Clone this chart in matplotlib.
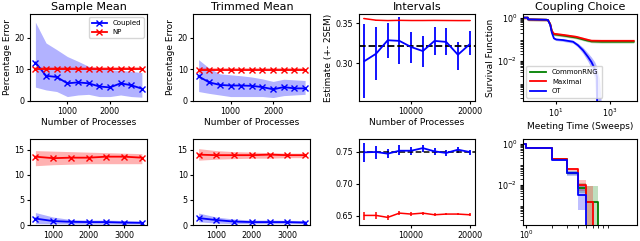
import numpy as np
import matplotlib
matplotlib.use("Agg")
import matplotlib.pyplot as plt
from matplotlib.ticker import NullFormatter

# ---- top row: error vs number of processes ----
n_top = [250, 500, 750, 1000, 1250, 1500, 1750, 2000, 2250, 2500, 2750]

mean_cpl = [12.2, 8.0, 7.6, 5.6, 5.9, 5.6, 4.6, 4.3, 5.6, 5.0, 3.9]
mean_cpl_hi = [25.0, 18.4, 16.3, 14.1, 12.6, 11.0, 10.4, 9.9, 9.7, 9.4, 9.0]
mean_cpl_lo = [4.4, 3.5, 3.0, 1.4, 1.9, 2.1, 1.4, 1.4, 1.9, 1.4, 1.2]
mean_np = [10.2, 10.2, 10.2, 10.2, 10.2, 10.2, 10.2, 10.2, 10.2, 10.2, 10.2]
mean_np_hi = [10.8, 10.8, 10.8, 10.8, 10.8, 10.8, 10.8, 10.8, 10.8, 10.8, 10.8]
mean_np_lo = [9.7, 9.7, 9.7, 9.7, 9.7, 9.7, 9.7, 9.7, 9.7, 9.7, 9.7]

trim_cpl = [7.8, 5.9, 5.1, 4.9, 4.9, 4.8, 4.4, 3.7, 4.4, 4.0, 4.0]
trim_cpl_hi = [13.1, 10.4, 8.6, 8.3, 8.0, 7.6, 7.0, 6.2, 6.9, 6.7, 6.5]
trim_cpl_lo = [3.0, 2.4, 1.9, 1.4, 1.4, 1.4, 1.4, 1.1, 1.7, 1.9, 2.1]
trim_np = [9.9, 9.9, 9.9, 9.9, 9.9, 9.9, 9.9, 9.9, 9.9, 9.9, 9.9]
trim_np_hi = [10.4, 10.4, 10.4, 10.4, 10.4, 10.4, 10.4, 10.4, 10.4, 10.4, 10.4]
trim_np_lo = [9.4, 9.4, 9.4, 9.4, 9.4, 9.4, 9.4, 9.4, 9.4, 9.4, 9.4]

# ---- bottom row ----
n_bot = [500, 1000, 1500, 2000, 2500, 3000, 3500]

mean2_cpl = [1.3, 0.8, 0.65, 0.6, 0.6, 0.5, 0.45]
mean2_cpl_hi = [2.5, 1.6, 1.1, 1.0, 1.0, 0.9, 0.8]
mean2_cpl_lo = [0.3, 0.25, 0.25, 0.2, 0.2, 0.2, 0.2]
mean2_np = [13.6, 13.3, 13.4, 13.4, 13.6, 13.6, 13.4]
mean2_np_hi = [14.8, 14.7, 14.6, 14.5, 14.4, 14.3, 14.2]
mean2_np_lo = [11.8, 12.0, 12.1, 12.2, 12.2, 12.2, 12.2]

trim2_cpl = [1.4, 1.0, 0.7, 0.6, 0.6, 0.6, 0.5]
trim2_cpl_hi = [2.4, 1.6, 1.2, 1.0, 1.0, 0.95, 0.9]
trim2_cpl_lo = [0.65, 0.4, 0.3, 0.3, 0.3, 0.3, 0.3]
trim2_np = [14.0, 13.9, 13.9, 13.9, 14.0, 13.9, 13.9]
trim2_np_hi = [15.2, 14.8, 14.6, 14.5, 14.4, 14.3, 14.3]
trim2_np_lo = [12.9, 13.1, 13.2, 13.3, 13.3, 13.4, 13.4]

# ---- intervals ----
n_int = [2000, 4000, 6000, 8000, 10000, 12000, 14000, 16000, 18000, 20000]
int_cpl = [0.3025, 0.3118, 0.3288, 0.328, 0.3203, 0.3152, 0.328, 0.3267, 0.3106, 0.3237]
int_cpl_hi = [0.349, 0.3458, 0.3508, 0.3576, 0.339, 0.334, 0.3458, 0.3436, 0.3267, 0.3407]
int_cpl_lo = [0.256, 0.2788, 0.3067, 0.299, 0.300, 0.2949, 0.3097, 0.3097, 0.2915, 0.3097]
int_np = [0.3560, 0.3540, 0.3535, 0.3538, 0.3536, 0.3536, 0.3537, 0.3536, 0.3535, 0.3535]
int_true = 0.321

int2_cpl = [0.7495, 0.75, 0.7474, 0.752, 0.752, 0.7561, 0.751, 0.7485, 0.7536, 0.75]
int2_cpl_hi = [0.7638, 0.7587, 0.7551, 0.7602, 0.7571, 0.7612, 0.7561, 0.7536, 0.7571, 0.7536]
int2_cpl_lo = [0.7347, 0.7383, 0.7398, 0.7449, 0.7459, 0.75, 0.7449, 0.7434, 0.7485, 0.7449]
int2_np = [0.6505, 0.6505, 0.6474, 0.6541, 0.6526, 0.6541, 0.6515, 0.6526, 0.6526, 0.6515]
int2_np_hi = [0.6566, 0.6561, 0.6515, 0.6577, 0.6556, 0.6566, 0.6541, 0.6541, 0.6541, 0.6541]
int2_np_lo = [0.6429, 0.6444, 0.6429, 0.6505, 0.6490, 0.6505, 0.6490, 0.6505, 0.6505, 0.6490]
int2_true = 0.75

# ---- coupling choice (survival) ----
ot_t = [0.62, 0.95, 0.95, 4.5, 5.2, 6.35, 7.3, 8.7, 10.6, 18.7, 44, 67, 103, 157, 210, 278, 340, 345, 420, 490]
ot_s = [1.0, 1.0, 0.83, 0.8, 0.78, 0.46, 0.2, 0.11, 0.098, 0.092, 0.077, 0.053, 0.031, 0.0154, 0.009, 0.0044, 0.0018, 1e-6, np.nan, np.nan]
ot_hi = [1.0, 1.0, 0.86, 0.83, 0.81, 0.5, 0.23, 0.125, 0.11, 0.105, 0.09, 0.065, 0.042, 0.023, 0.015, 0.009, 0.005, 0.004, 0.0015, 1e-4]
ot_lo = [1.0, 1.0, 0.80, 0.77, 0.75, 0.42, 0.17, 0.097, 0.087, 0.08, 0.066, 0.043, 0.022, 0.0095, 0.0045, 0.0015, 1e-5, 1e-6, 1e-6, 1e-6]

cp_t = [0.62, 0.95, 0.95, 4.5, 5.2, 6.35, 7.3, 8.7, 18.7, 58, 137, 210, 500, 2000, 7700]
max_s = [1.0, 1.0, 0.83, 0.8, 0.78, 0.5, 0.24, 0.18, 0.16, 0.13, 0.098, 0.086, 0.085, 0.085, 0.085]
crng_s = [1.0, 1.0, 0.83, 0.8, 0.78, 0.5, 0.23, 0.17, 0.15, 0.12, 0.09, 0.08, 0.077, 0.077, 0.077]

# ---- bottom coupling choice (steps) ----
st_t = [0.9, 1, 2, 3, 4, 5, 6, 7, 8]
ot2 = [1.0, 0.62, 0.17, 0.036, 0.0033, 1e-6, 1e-6, 1e-6, 1e-6]
ot2_hi = [1.0, 0.66, 0.19, 0.045, 0.011, 1e-6, 1e-6, 1e-6, 1e-6]
ot2_lo = [1.0, 0.58, 0.15, 0.028, 0.0006, 1e-6, 1e-6, 1e-6, 1e-6]
max2 = [1.0, 0.62, 0.19, 0.058, 0.0093, 0.0015, 1e-6, 1e-6, 1e-6]
max2_hi = [1.0, 0.66, 0.215, 0.07, 0.018, 0.009, 1e-6, 1e-6, 1e-6]
max2_lo = [1.0, 0.58, 0.165, 0.046, 0.005, 1e-5, 1e-6, 1e-6, 1e-6]
crng2 = [1.0, 0.62, 0.18, 0.04, 0.0069, 0.0015, 0.0015, 1e-6, 1e-6]
crng2_hi = [1.0, 0.66, 0.2, 0.05, 0.012, 0.009, 0.009, 1e-6, 1e-6]
crng2_lo = [1.0, 0.58, 0.16, 0.032, 0.004, 1e-5, 1e-5, 1e-6, 1e-6]

TICK = 5.8
LAB = 6.5
TIT = 8

fig = plt.figure(figsize=(6.4, 2.41), dpi=100)
cols = [0.047, 0.302, 0.561, 0.817]
widths = [0.183, 0.183, 0.181, 0.178]
ax = {}
for r, (b, h) in enumerate([(0.581, 0.361), (0.066, 0.357)]):
    for c in range(4):
        ax[r, c] = fig.add_axes([cols[c], b, widths[c], h])
        ax[r, c].tick_params(labelsize=TICK, length=2.5, pad=1.5)


def err_panel(a, x, cpl, clo, chi, npv, nlo, nhi):
    a.fill_between(x, clo, chi, color='blue', alpha=0.3, lw=0)
    a.fill_between(x, nlo, nhi, color='red', alpha=0.3, lw=0)
    a.plot(x, cpl, color='blue', marker='x', ms=4.5, lw=1.3, label='Coupled')
    a.plot(x, npv, color='red', marker='x', ms=4.5, lw=1.3, label='NP')


err_panel(ax[0, 0], n_top, mean_cpl, mean_cpl_lo, mean_cpl_hi, mean_np, mean_np_lo, mean_np_hi)
err_panel(ax[0, 1], n_top, trim_cpl, trim_cpl_lo, trim_cpl_hi, trim_np, trim_np_lo, trim_np_hi)
err_panel(ax[1, 0], n_bot, mean2_cpl, mean2_cpl_lo, mean2_cpl_hi, mean2_np, mean2_np_lo, mean2_np_hi)
err_panel(ax[1, 1], n_bot, trim2_cpl, trim2_cpl_lo, trim2_cpl_hi, trim2_np, trim2_np_lo, trim2_np_hi)

for c in range(2):
    ax[0, c].set_ylim(0, 27.6)
    ax[0, c].set_xticks([1000, 2000])
    ax[0, c].set_yticks([0, 10, 20])
    ax[0, c].set_xlabel('Number of Processes', fontsize=LAB, labelpad=2)
    ax[0, c].set_ylabel('Percentage Error', fontsize=LAB, labelpad=2)
    ax[1, c].set_ylim(0, 17.1)
    ax[1, c].set_xticks([1000, 2000, 3000])
    ax[1, c].set_yticks([0, 5, 10, 15])
ax[0, 0].set_title('Sample Mean', fontsize=TIT, pad=3)
ax[0, 1].set_title('Trimmed Mean', fontsize=TIT, pad=3)
ax[0, 0].legend(loc='upper right', fontsize=5, handlelength=2.2, borderpad=0.4, labelspacing=0.4)

# intervals
a = ax[0, 2]
yerr = [np.subtract(int_cpl, int_cpl_lo), np.subtract(int_cpl_hi, int_cpl)]
a.errorbar(n_int, int_cpl, yerr=yerr, color='blue', lw=1.3)
a.errorbar(n_int, int_np, yerr=0.0008, color='red', lw=1.1)
a.axhline(int_true, color='black', ls='--', lw=1.3)
a.set_ylim(0.2525, 0.3618)
a.set_yticks([0.30, 0.35])
a.set_xticks([10000, 20000])
a.set_title('Intervals', fontsize=TIT, pad=3)
a.set_xlabel('Number of Processes', fontsize=LAB, labelpad=2)
a.set_ylabel('Estimate (+- 2SEM)', fontsize=LAB, labelpad=2)

a = ax[1, 2]
yerr = [np.subtract(int2_cpl, int2_cpl_lo), np.subtract(int2_cpl_hi, int2_cpl)]
a.errorbar(n_int, int2_cpl, yerr=yerr, color='blue', lw=1.3)
yerr = [np.subtract(int2_np, int2_np_lo), np.subtract(int2_np_hi, int2_np)]
a.errorbar(n_int, int2_np, yerr=yerr, color='red', lw=1.1)
a.axhline(int2_true, color='black', ls='--', lw=1.1)
a.set_ylim(0.6353, 0.7703)
a.set_yticks([0.65, 0.70, 0.75])
a.set_xticks([10000, 20000])

# coupling choice
a = ax[0, 3]
a.set_xscale('log')
a.set_yscale('log')
cp_ratio = 1.15
a.fill_between(cp_t, np.array(crng_s) / cp_ratio, np.array(crng_s) * cp_ratio, color='green', alpha=0.3, lw=0)
a.fill_between(cp_t, np.array(max_s) / cp_ratio, np.array(max_s) * cp_ratio, color='red', alpha=0.3, lw=0)
a.fill_between(ot_t, ot_lo, ot_hi, color='blue', alpha=0.3, lw=0)
a.plot(cp_t, crng_s, color='green', lw=1.3, label='CommonRNG')
a.plot(cp_t, max_s, color='red', lw=1.3, label='Maximal')
a.plot(ot_t, ot_s, color='blue', lw=1.3, label='OT')
a.set_xlim(0.62, 10000)
a.set_ylim(1.4e-4, 1.48)
a.set_xticks([10, 1000])
a.set_yticks([1e-2, 1])
a.xaxis.set_minor_formatter(NullFormatter())
a.yaxis.set_minor_formatter(NullFormatter())
a.set_title('Coupling Choice', fontsize=TIT, pad=3)
a.set_xlabel('Meeting Time (Sweeps)', fontsize=LAB, labelpad=2)
a.set_ylabel('Survival Function', fontsize=LAB, labelpad=2)
a.legend(loc='lower left', fontsize=5, handlelength=2.4, borderpad=0.5, labelspacing=0.5)

a = ax[1, 3]
a.set_xscale('log')
a.set_yscale('log')
for s, lo, hi, col in [(crng2, crng2_lo, crng2_hi, 'green'),
                       (max2, max2_lo, max2_hi, 'red'),
                       (ot2, ot2_lo, ot2_hi, 'blue')]:
    a.fill_between(st_t, lo, hi, step='post', color=col, alpha=0.25, lw=0)
for s, col in [(crng2, 'green'), (max2, 'red'), (ot2, 'blue')]:
    a.step(st_t, s, where='post', color=col, lw=1.3)
a.set_xlim(0.915, 19.7)
a.set_ylim(1.07e-4, 1.74)
a.set_xticks([1])
a.set_yticks([1e-2, 1])
a.xaxis.set_minor_formatter(NullFormatter())
a.yaxis.set_minor_formatter(NullFormatter())
a.tick_params(axis='x', which='both', length=2, pad=0.3, labelsize=5.5)

fig.savefig('out.png', dpi=100)
